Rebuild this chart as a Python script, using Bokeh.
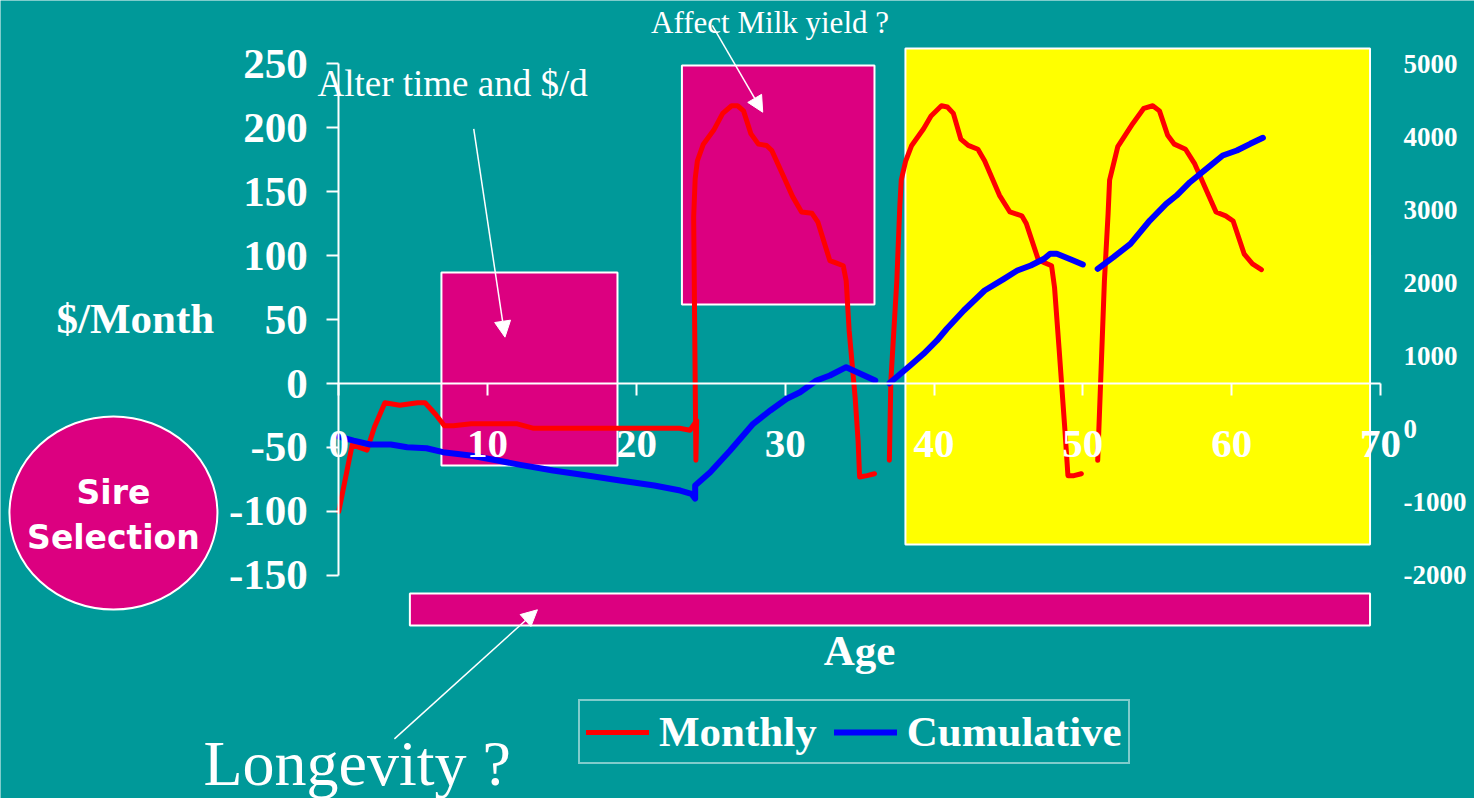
from bokeh.plotting import figure
from bokeh.models import (Range1d, LinearAxis, FixedTicker, Legend, LegendItem,
                          Label, Arrow, NormalHead)
from bokeh.embed import file_html
from bokeh.resources import INLINE

NAN = float("nan")

# ---------------------------------------------------------------------------
# Monthly net return ($/month) by age (months)
# rearing + first lactation, second lactation, third lactation
rear_lact1_age = [0, 0.9, 1.9, 2.4, 3.1, 4.1, 5.3, 5.8, 6.5, 7.1,
                  7.7, 8.9, 12.0, 13.1, 22.9, 23.6, 24.05, 24.0, 23.85, 23.95,
                  24.1, 24.5, 25.2, 25.8, 26.4, 26.8, 27.2, 27.7, 28.2, 28.75,
                  29.1, 29.8, 30.5, 31.1, 31.8, 32.2, 33.0, 33.45, 33.9, 34.1,
                  34.3, 34.7, 34.9, 35.0, 35.5, 36.0]
rear_lact1_monthly = [-100, -48, -52, -34, -15, -17, -15, -15, -24, -33,
                      -33, -31.5, -31.5, -35, -35, -36.5, -29, -60, 130, 160,
                      174, 187, 198, 211, 217, 217, 213, 195, 187, 186,
                      182, 164, 146, 134, 133, 126, 96, 94, 92, 80,
                      41, -11, -45, -73, -72, -70.5]

lact2_age = [37.0, 37.1, 37.5, 37.7, 37.8, 38.1, 38.5, 39.3, 39.8, 40.5,
             40.9, 41.3, 41.8, 42.3, 42.95, 43.4, 44.4, 45.1, 45.9, 46.2,
             47.0, 47.3, 47.9, 48.1, 48.4, 48.8, 49.0, 49.4, 49.9]
lact2_monthly = [-60, 2, 80, 138, 159, 174, 186, 199, 209, 217,
                 216, 211, 191, 186, 183, 174, 147, 134, 131, 125,
                 97, 95, 92, 75, 28, -37, -72, -72, -70.5]

lact3_age = [51.0, 51.45, 51.7, 51.8, 52.35, 53.35, 54.1, 54.7, 55.15, 55.7,
             56.15, 56.9, 57.5, 58.3, 58.95, 59.6, 60.1, 60.85, 61.4, 62.0]
lact3_monthly = [-60, 80, 133, 159, 185, 203, 215, 217, 213, 194,
                 187, 183, 172, 151, 134, 131, 127, 101, 93.5, 89]

# Cumulative net return ($) by age (months)
cum1_age = [0, 1.0, 2.1, 3.5, 4.6, 5.9, 7.0, 8.85, 10.4, 12.2,
            14.4, 16.7, 18.9, 21.2, 22.95, 23.7, 23.95, 23.95, 24.96, 26.3,
            27.85, 29.0, 30.1, 31.0, 32.1, 33.0, 34.1, 36.05]
cum1_value = [-100, -155, -209, -209, -246, -260, -314, -360, -418, -487,
              -565, -633, -701, -770, -838, -883, -950, -770, -588, -291,
              74, 256, 416, 506, 666, 734, 848, 666]

cum2_age = [37.0, 38.4, 39.3, 40.2, 40.86, 42.0, 43.4, 44.7, 45.6, 46.5,
            47.4, 47.8, 48.25, 49.2, 50.0]
cum2_value = [629, 871, 1031, 1213, 1373, 1623, 1896, 2056, 2170, 2238,
              2330, 2398, 2398, 2320, 2252]

cum3_age = [51.0, 52.06, 53.2, 54.5, 55.6, 56.3, 57.2, 58.3, 59.4, 60.35,
            61.25, 62.1]
cum3_value = [2193, 2352, 2535, 2853, 3082, 3195, 3377, 3560, 3742, 3810,
              3902, 3984]

# Axis ticks and their labels
age_ticks = [0, 10, 20, 30, 40, 50, 60, 70]
age_tick_labels = ["0", "10", "20", "30", "40", "50", "60", "70"]
month_ticks = [-150, -100, -50, 0, 50, 100, 150, 200, 250]
month_tick_labels = ["-150", "-100", "-50", "0", "50", "100", "150", "200", "250"]
cum_ticks = [-2000, -1000, 0, 1000, 2000, 3000, 4000, 5000]
cum_tick_labels = ["-2000", "-1000", "0", "1000", "2000", "3000", "4000", "5000"]
# ---------------------------------------------------------------------------

TEAL = "#009999"
MAGENTA = "#DC0080"
YELLOW = "#FFFF00"
WHITE = "#FFFFFF"
SERIF = "Liberation Serif"


def join_segments(*segments):
    """Concatenate line segments with NaN breaks between them."""
    out = []
    for i, seg in enumerate(segments):
        if i:
            out.append(NAN)
        out.extend(seg)
    return out


# The plot frame fills the whole slide; axes sit inside it at fixed spots.
X_LO, X_HI = -22.73, 76.32
Y_LO, Y_HI = -324.22, 299.22

# secondary axis spans the same height as the primary one
k = (cum_ticks[-1] - cum_ticks[0]) / (month_ticks[-1] - month_ticks[0])
c0 = cum_ticks[0] - k * month_ticks[0]

p = figure(width=1474, height=798,
           x_range=Range1d(X_LO, X_HI), y_range=Range1d(Y_LO, Y_HI),
           x_axis_type=None, y_axis_type=None,
           toolbar_location=None, output_backend="svg", min_border=0)
p.extra_y_ranges = {"cum": Range1d(k * Y_LO + c0, k * Y_HI + c0)}
p.background_fill_color = TEAL
p.border_fill_color = TEAL
p.outline_line_color = None

# highlighted stages of the cow's life
box_style = dict(fill_color=MAGENTA, line_color=WHITE, line_width=2)
p.quad(left=[4.78], right=[69.3], top=[-164.1], bottom=[-189.1], **box_style)
p.quad(left=[6.9], right=[18.73], top=[86.7], bottom=[-64.1], **box_style)
p.quad(left=[23.06], right=[36.0], top=[248.4], bottom=[61.7], **box_style)
p.quad(left=[38.08], right=[69.3], top=[261.7], bottom=[-125.8],
       fill_color=YELLOW, line_color=WHITE, line_width=2)

p.ellipse(x=[-15.14], y=[-101.2], width=208, height=193,
          width_units="screen", height_units="screen", **box_style)

# data lines
monthly = p.line(join_segments(rear_lact1_age, lact2_age, lact3_age),
                 join_segments(rear_lact1_monthly, lact2_monthly, lact3_monthly),
                 line_color="#FF0000", line_width=5,
                 line_join="round", line_cap="round")
cumulative = p.line(join_segments(cum1_age, cum2_age, cum3_age),
                    join_segments(cum1_value, cum2_value, cum3_value),
                    y_range_name="cum", line_color="#0000FF", line_width=6,
                    line_join="round", line_cap="round")

# axes
def style_axis(ax, size):
    ax.axis_line_color = WHITE
    ax.axis_line_width = 2
    ax.major_tick_line_color = WHITE
    ax.major_tick_line_width = 2
    ax.minor_tick_line_color = None
    ax.major_label_text_color = WHITE
    ax.major_label_text_font = SERIF
    ax.major_label_text_font_style = "bold"
    ax.major_label_text_font_size = size


x_axis = LinearAxis(fixed_location=0, bounds=(age_ticks[0], age_ticks[-1]),
                    ticker=FixedTicker(ticks=age_ticks),
                    major_label_overrides=dict(zip(age_ticks, age_tick_labels)))
style_axis(x_axis, "41px")
x_axis.major_tick_in = 0
x_axis.major_tick_out = 12
x_axis.major_label_standoff = 35
p.add_layout(x_axis, "below")

y_axis = LinearAxis(fixed_location=0, bounds=(month_ticks[0], month_ticks[-1]),
                    ticker=FixedTicker(ticks=month_ticks),
                    major_label_overrides=dict(zip(month_ticks, month_tick_labels)))
style_axis(y_axis, "43px")
y_axis.major_tick_in = 0
y_axis.major_tick_out = 12
y_axis.major_label_standoff = 19
p.add_layout(y_axis, "left")

y2_axis = LinearAxis(y_range_name="cum", fixed_location=age_ticks[-1],
                     bounds=(cum_ticks[0], cum_ticks[-1]),
                     ticker=FixedTicker(ticks=cum_ticks),
                     major_label_overrides=dict(zip(cum_ticks, cum_tick_labels)))
style_axis(y2_axis, "27px")
y2_axis.axis_line_color = None
y2_axis.major_tick_line_color = None
y2_axis.major_tick_in = 0
y2_axis.major_tick_out = 0
y2_axis.major_label_standoff = 23
p.add_layout(y2_axis, "right")

# texts
def add_text(text, x, y, size, style="normal", font=SERIF, align="left"):
    p.add_layout(Label(x=x, y=y, text=text, text_color=WHITE, text_font=font,
                       text_font_size=size, text_font_style=style,
                       text_align=align, text_baseline="alphabetic"))


add_text("Alter time and $/d", -1.43, 234.4, "37px")
add_text("Affect Milk yield ?", 20.99, 282.0, "31px")
add_text("Longevity ?", -9.09, -296.6, "64px")
add_text("$/Month", -18.97, 50.8, "43px", style="bold")
add_text("Age", 34.99, -208.6, "43px", style="bold", align="center")
add_text("Sire", -15.14, -85.1, "33px", style="bold", font="DejaVu Sans", align="center")
add_text("Selection", -15.14, -120.3, "33px", style="bold", font="DejaVu Sans", align="center")

# pointer arrows
for xs, ys, xe, ye in [(9.07, 199.0, 11.17, 36.2),
                       (25.10, 279.7, 28.49, 211.95),
                       (3.74, -277.6, 13.35, -176.8)]:
    p.add_layout(Arrow(x_start=xs, y_start=ys, x_end=xe, y_end=ye,
                       line_color=WHITE, line_width=1.5,
                       end=NormalHead(size=16, fill_color=WHITE,
                                      line_color=WHITE, line_width=1)))

legend = Legend(items=[LegendItem(label="Monthly", renderers=[monthly]),
                       LegendItem(label="Cumulative", renderers=[cumulative])],
                orientation="horizontal", location=(578, 34),
                border_line_color=WHITE, border_line_width=2,
                background_fill_alpha=0, label_text_color=WHITE,
                label_text_font=SERIF, label_text_font_style="bold",
                label_text_font_size="43px", glyph_width=63, glyph_height=20,
                label_standoff=10, spacing=17, padding=6, margin=0)
p.add_layout(legend, "center")

open("out.html", "w").write(file_html(p, INLINE))
